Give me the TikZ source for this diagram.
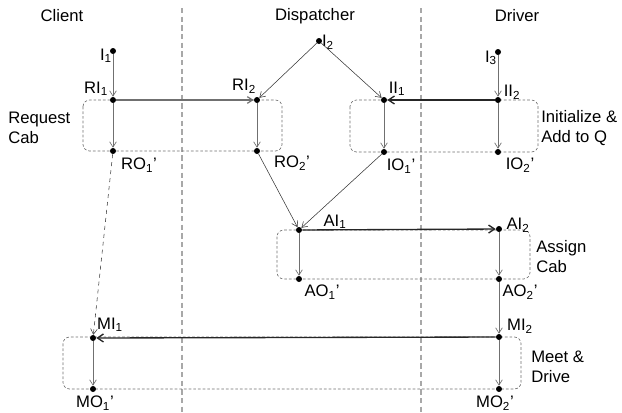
\documentclass[tikz,border=0pt]{standalone}
\usepackage{fontspec}
\setmainfont{Liberation Sans}
\usetikzlibrary{arrows.meta}
\definecolor{LaneGray}{HTML}{A8A8A8}
\definecolor{BoxGray}{HTML}{6E6E6E}
\definecolor{FlowGray}{HTML}{707070}
\newcommand{\sub}[1]{\textsubscript{#1}}

\begin{document}
\begin{tikzpicture}[
  x=0.75pt, y=-0.75pt,
  every node/.style={font=\fontsize{12.5}{15}\selectfont, inner sep=0pt},
  dot/.style={circle, fill=black, minimum size=4.5pt, inner sep=0pt},
  lane/.style={draw=LaneGray, line width=0.9pt, dash pattern=on 4pt off 2.5pt},
  stagebox/.style={draw=BoxGray, line width=0.5pt, dash pattern=on 2pt off 1.5pt, rounded corners=5pt},
  flow/.style={draw=FlowGray, line width=0.5pt, -{Straight Barb[length=4pt,width=5pt]}},
  link/.style={draw=black!80, line width=0.4pt, -{Straight Barb[length=4pt,width=5pt]}},
  handoff/.style={draw=black!85, line width=1pt, -{Straight Barb[length=4.5pt,width=6pt]}},
]
\useasboundingbox (0,0) rectangle (622,412);

% ============ lanes ============
\draw[lane] (182,8) -- (182,412);
\draw[lane] (421,8) -- (421,412);
\node (client) at (62,16) {Client};
\node (dispatcher) at (315,16) {Dispatcher};
\node (driver) at (517,16) {Driver};

% ============ stage boxes ============
\draw[stagebox] (83,100) rectangle (282,151);
\draw[stagebox] (350,100) rectangle (538,152);
\draw[stagebox] (277,230) rectangle (530,279);
\draw[stagebox] (63,337) rectangle (521,389);

\node[anchor=west, align=left] (reqtxt) at (8,128) {Request\\Cab};
\node[anchor=west, align=left] (inittxt) at (541,128) {Initialize \&\\Add to Q};
\node[anchor=west, align=left] (asgtxt) at (536,257) {Assign\\Cab};
\node[anchor=west, align=left] (meettxt) at (531,367) {Meet \&\\Drive};

% ============ points ============
\node[dot] (I1) at (113,51) {};
\node[dot] (RI1) at (113,100) {};
\node[dot] (RO1) at (113,151) {};
\node[dot] (I2) at (319,41) {};
\node[dot] (RI2) at (257,100) {};
\node[dot] (RO2) at (257,151) {};
\node[dot] (II1) at (384,100) {};
\node[dot] (IO1) at (384,152) {};
\node[dot] (I3) at (498,52) {};
\node[dot] (II2) at (498,100) {};
\node[dot] (IO2) at (498,152) {};
\node[dot] (AI1) at (299,230) {};
\node[dot] (AO1) at (299,279) {};
\node[dot] (AI2) at (499,229) {};
\node[dot] (AO2) at (499,279) {};
\node[dot] (MI1) at (93,338) {};
\node[dot] (MO1) at (93,389) {};
\node[dot] (MI2) at (499,337) {};
\node[dot] (MO2) at (499,389) {};

% ============ point labels ============
\node (lI1) at (106,56) {I\sub{1}};
\node (lRI1) at (96,89) {RI\sub{1}};
\node (lRO1) at (139,165) {RO\sub{1}'};
\node (lI2) at (328,42) {I\sub{2}};
\node (lRI2) at (244,86) {RI\sub{2}};
\node (lRO2) at (292,163) {RO\sub{2}'};
\node (lII1) at (397,89) {II\sub{1}};
\node (lIO1) at (401,166) {IO\sub{1}'};
\node (lI3) at (491,58) {I\sub{3}};
\node (lII2) at (512,92) {II\sub{2}};
\node (lIO2) at (520,165) {IO\sub{2}'};
\node (lAI1) at (335,222) {AI\sub{1}};
\node (lAO1) at (322,292) {AO\sub{1}'};
\node (lAI2) at (518,225) {AI\sub{2}};
\node (lAO2) at (520,292) {AO\sub{2}'};
\node (lMI1) at (110,325) {MI\sub{1}};
\node (lMO1) at (95,403) {MO\sub{1}'};
\node (lMI2) at (520,326) {MI\sub{2}};
\node (lMO2) at (495,403) {MO\sub{2}'};

% ============ request cab ============
\draw[flow] (I1) -- (RI1);
\draw[flow] (RI1) -- (RO1);
\draw[flow, line width=0.9pt] (RI1) -- (RI2);
\draw[link] (I2) -- (RI2);
\draw[flow] (RI2) -- (RO2);

% ============ initialize ============
\draw[link] (I2) -- (II1);
\draw[flow] (I3) -- (II2);
\draw[handoff] (II2) -- (II1);
\draw[flow] (II1) -- (IO1);
\draw[flow] (II2) -- (IO2);

% ============ assign cab ============
\draw[link] (RO2) -- (AI1);
\draw[link] (IO1) -- (AI1);
\draw[handoff] (AI1) -- (AI2);
\draw[flow] (AI1) -- (AO1);
\draw[flow] (AI2) -- (AO2);

% ============ meet & drive ============
\draw[flow] (AO2) -- (MI2);
\draw[link, dashed] (RO1) -- (MI1);
\draw[handoff] (MI2) -- (MI1);
\draw[flow] (MI1) -- (MO1);
\draw[flow] (MI2) -- (MO2);

\end{tikzpicture}
\end{document}
